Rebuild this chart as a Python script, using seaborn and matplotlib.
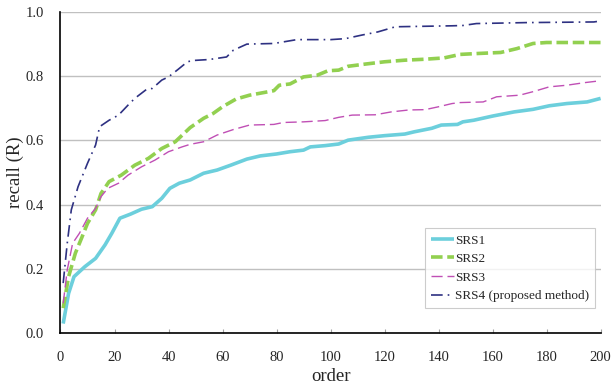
import matplotlib
matplotlib.use("Agg")
import matplotlib.pyplot as plt
import seaborn as sns
import pandas as pd

# ---- data ----
srs1_x = [1, 3, 5, 9, 13, 16.5, 19, 22, 26, 30, 34, 37.5, 40.5, 44, 48, 53, 58, 63, 69, 74, 80, 85, 90, 92.5, 98,
          103, 106.5, 114, 120, 127.5, 131, 137.5, 141, 147, 149, 153, 160, 168, 175, 181, 187.5, 195, 200]
srs1_y = [0.03, 0.124, 0.176, 0.207, 0.233, 0.275, 0.311, 0.358, 0.371, 0.386, 0.394, 0.42, 0.451, 0.467, 0.477,
          0.498, 0.508, 0.523, 0.542, 0.552, 0.558, 0.565, 0.570, 0.580, 0.584,
          0.589, 0.601, 0.61, 0.615, 0.62, 0.627, 0.638, 0.648, 0.650, 0.658, 0.663, 0.676, 0.689, 0.697, 0.708,
          0.715, 0.72, 0.731]

srs2_x = [1, 3, 5.5, 8, 10, 13, 15, 18, 22.5, 27.5, 32.5, 37.5, 42.5, 48, 53, 56.5, 60, 65, 70, 79, 81, 85, 90,
          95, 99, 103, 106.5, 113, 120, 127.5, 135, 142, 148, 155, 163, 169, 175, 180, 200]
srs2_y = [0.078, 0.176, 0.249, 0.30, 0.342, 0.384, 0.435, 0.472, 0.492, 0.523, 0.544, 0.575, 0.596, 0.640,
          0.669, 0.684, 0.705, 0.729, 0.741, 0.755, 0.772, 0.776, 0.798, 0.803, 0.817, 0.819, 0.831, 0.838,
          0.845, 0.85, 0.853, 0.857, 0.868, 0.871, 0.874, 0.886, 0.902, 0.905, 0.905]

srs3_x = [1, 2.5, 4.5, 7, 10, 13, 15, 17.5, 21.5, 25, 30, 35, 40, 45, 48, 53, 58, 64, 70, 79, 82.5, 90, 98,
          103, 108, 116.5, 122.5, 129, 135, 140, 145, 148, 156.5, 161.5, 170, 175, 181, 187.5, 194, 200]
srs3_y = [0.093, 0.197, 0.28, 0.311, 0.358, 0.389, 0.425, 0.451, 0.467, 0.492, 0.518, 0.539, 0.565, 0.58,
          0.588, 0.596, 0.617, 0.634, 0.648, 0.65, 0.656, 0.658, 0.662, 0.672, 0.679, 0.68, 0.689, 0.695,
          0.696, 0.705, 0.715, 0.718, 0.72, 0.736, 0.741, 0.752, 0.767, 0.772, 0.78, 0.786]

srs4_x = [1, 2.5, 4, 6.5, 10, 13, 14.5, 18, 21.5, 25, 27.5, 32, 34, 37.5, 40, 43.5, 47, 49, 55, 61.5, 64, 69,
          79, 84, 87.5, 100, 105.5, 111.5, 117.5, 124, 145, 149, 154, 172.5, 197.5, 200]
srs4_y = [0.156, 0.28, 0.384, 0.456, 0.529, 0.586, 0.643, 0.663, 0.679, 0.71, 0.731, 0.76, 0.762, 0.788,
          0.798, 0.821, 0.845, 0.849, 0.852, 0.86, 0.881, 0.90, 0.902, 0.909, 0.914, 0.914, 0.917, 0.928,
          0.938, 0.954, 0.957, 0.958, 0.964, 0.967, 0.969, 0.972]

labels = ["SRS1", "SRS2", "SRS3", "SRS4 (proposed method)"]
xs = [srs1_x, srs2_x, srs3_x, srs4_x]
ys = [srs1_y, srs2_y, srs3_y, srs4_y]

colors = ["#6ccfdc", "#92d050", "#c04fb5", "#2e3182"]
widths = [2.6, 2.6, 1.0, 1.2]
dash_styles = ["", (3.2, 1.3), (8, 3.5), (7, 3, 1, 3)]

frames = [pd.DataFrame({"order": x, "recall": y, "method": lab}) for x, y, lab in zip(xs, ys, labels)]
df = pd.concat(frames, ignore_index=True)

sns.set_theme(style="white")
plt.rcParams["font.family"] = ["Liberation Serif", "DejaVu Serif"]

fig = plt.figure(figsize=(6.11, 3.87), dpi=100)
ax = fig.add_axes([0.099, 0.139, 0.884, 0.830])

for lab, c, lw, ds in zip(labels, colors, widths, dash_styles):
    sub = df[df["method"] == lab]
    sns.lineplot(data=sub, x="order", y="recall", ax=ax, color=c, linewidth=lw,
                 label=lab, estimator=None, sort=True)
    line = ax.lines[-1]
    if ds:
        line.set_dashes(ds)
    line.set_solid_capstyle("butt")
    line.set_dash_capstyle("butt")

ax.set_xlim(0, 200)
ax.set_ylim(0, 1.0)
ax.set_xticks(range(0, 201, 20))
ax.set_yticks([0.0, 0.2, 0.4, 0.6, 0.8, 1.0])
ax.set_yticklabels(["0.0", "0.2", "0.4", "0.6", "0.8", "1.0"])
ax.yaxis.grid(True, color="#c0c0c0", linewidth=1.0)
ax.xaxis.grid(False)
ax.set_axisbelow(True)

for s in ["top", "right"]:
    ax.spines[s].set_visible(False)
for s in ["left", "bottom"]:
    ax.spines[s].set_visible(True)
    ax.spines[s].set_color("black")
    ax.spines[s].set_linewidth(1.2)

ax.tick_params(axis="x", direction="in", length=3, width=0.8, color="#a0a0a0", labelsize=10.5, pad=12.5,
               bottom=True)
ax.tick_params(axis="y", length=0, labelsize=10.5, pad=12)

ax.set_xlabel("order", fontsize=13.5, labelpad=3)
ax.set_ylabel("recall (R)", fontsize=13.5, labelpad=1)

leg = ax.legend(loc="lower right", bbox_to_anchor=(0.99, 0.078), fontsize=9.5, frameon=True,
                fancybox=False, handlelength=1.8, handletextpad=0.05, borderpad=0.45,
                labelspacing=0.48, borderaxespad=0)
leg.get_frame().set_edgecolor("#c0c0c0")
leg.get_frame().set_linewidth(0.8)

fig.savefig("out.png", dpi=100)
